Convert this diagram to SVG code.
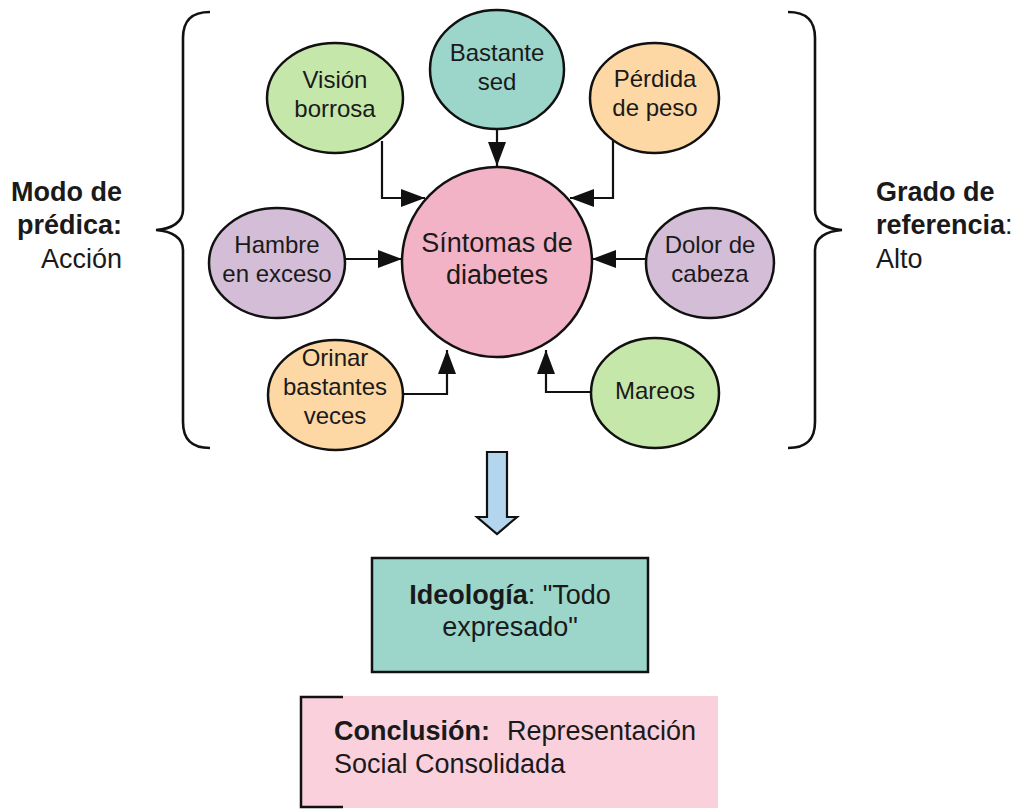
<svg xmlns="http://www.w3.org/2000/svg" width="1017" height="810" viewBox="0 0 1017 810">
  <style>
    text { font-family: "Liberation Sans", Arial, sans-serif; fill: #1a1a1a; }
    .lbl { font-size: 24px; text-anchor: middle; }
    .big { font-size: 27px; }
    .b { font-weight: bold; }
    .node { stroke: #111; stroke-width: 2.5; }
    .green { fill: #c6e7aa; }
    .teal { fill: #9cd6cb; }
    .orange { fill: #fed8a4; }
    .purple { fill: #d4bdd6; }
    .pink { fill: #f3b3c6; }
    .conn { fill: none; stroke: #111; stroke-width: 2.2; }
    .brace { fill: none; stroke: #111; stroke-width: 2.6; }
  </style>
  <defs>
    <marker id="head" viewBox="0 0 24 18" refX="24" refY="9" markerWidth="24" markerHeight="18" markerUnits="userSpaceOnUse" orient="auto">
      <path d="M0,0 L24,9 L0,18 Z" fill="#111"/>
    </marker>
  </defs>

  <rect width="1017" height="810" fill="#ffffff"/>

  <!-- side braces -->
  <g id="brace-left">
    <path class="brace" d="M210,12 C192,12 183,20 183,38 L183,210 C183,222 172,229 156,230 C172,231 183,238 183,250 L183,422 C183,440 192,448 210,448"/>
  </g>
  <g id="brace-right">
    <path class="brace" d="M788,12 C806,12 815,20 815,38 L815,210 C815,222 826,229 842,230 C826,231 815,238 815,250 L815,422 C815,440 806,448 788,448"/>
  </g>

  <!-- side labels -->
  <g id="modo-predica">
    <text class="big b" x="122" y="201" text-anchor="end">Modo de</text>
    <text class="big b" x="122" y="234" text-anchor="end">prédica:</text>
    <text class="big" x="122" y="268" text-anchor="end">Acción</text>
  </g>
  <g id="grado-referencia">
    <text class="big b" x="876" y="201">Grado de</text>
    <text class="big" x="876" y="234"><tspan class="b">referencia</tspan>:</text>
    <text class="big" x="876" y="268">Alto</text>
  </g>

  <!-- connectors -->
  <g id="connectors">
    <path class="conn" d="M382,141 L382,198 L425,198" marker-end="url(#head)"/>
    <path class="conn" d="M497,129 L497,166" marker-end="url(#head)"/>
    <path class="conn" d="M613,141 L613,198 L570,198" marker-end="url(#head)"/>
    <path class="conn" d="M345,259 L402,259" marker-end="url(#head)"/>
    <path class="conn" d="M646,259 L592,259" marker-end="url(#head)"/>
    <path class="conn" d="M403,394 L447,394 L447,350" marker-end="url(#head)"/>
    <path class="conn" d="M591,392 L546,392 L546,350" marker-end="url(#head)"/>
  </g>

  <!-- central node -->
  <g id="sintomas">
    <circle class="node pink" cx="497" cy="262" r="95"/>
    <text class="big" x="497" y="252" text-anchor="middle">Síntomas de</text>
    <text class="big" x="497" y="284" text-anchor="middle">diabetes</text>
  </g>

  <g id="bastante-sed">
    <ellipse class="node teal" cx="497" cy="69.5" rx="67" ry="59.5"/>
    <text class="lbl" x="497" y="61">Bastante</text>
    <text class="lbl" x="497" y="90">sed</text>
  </g>
  <g id="vision-borrosa">
    <ellipse class="node green" cx="335" cy="98" rx="68" ry="55"/>
    <text class="lbl" x="335" y="88">Visión</text>
    <text class="lbl" x="335" y="117">borrosa</text>
  </g>
  <g id="perdida-peso">
    <ellipse class="node orange" cx="654.5" cy="98" rx="64.5" ry="55"/>
    <text class="lbl" x="655" y="87">Pérdida</text>
    <text class="lbl" x="655" y="116">de peso</text>
  </g>
  <g id="hambre-exceso">
    <ellipse class="node purple" cx="277" cy="263" rx="68" ry="55"/>
    <text class="lbl" x="277" y="253">Hambre</text>
    <text class="lbl" x="277" y="282">en exceso</text>
  </g>
  <g id="dolor-cabeza">
    <ellipse class="node purple" cx="710" cy="263" rx="64" ry="55"/>
    <text class="lbl" x="710" y="253">Dolor de</text>
    <text class="lbl" x="710" y="282">cabeza</text>
  </g>
  <g id="orinar">
    <ellipse class="node orange" cx="335.5" cy="395" rx="67.5" ry="55"/>
    <text class="lbl" x="335" y="366">Orinar</text>
    <text class="lbl" x="335" y="395">bastantes</text>
    <text class="lbl" x="335" y="424">veces</text>
  </g>
  <g id="mareos">
    <ellipse class="node green" cx="655" cy="393" rx="64" ry="55"/>
    <text class="lbl" x="655" y="399">Mareos</text>
  </g>

  <!-- block arrow -->
  <g id="flecha">
    <path d="M487,452 L507,452 L507,517 L517,517 L497,534 L477,517 L487,517 Z" fill="#b3d5ee" stroke="#111" stroke-width="2.2" stroke-linejoin="miter"/>
  </g>

  <g id="ideologia">
    <rect x="372" y="558" width="276" height="114" fill="#9cd6cb" stroke="#111" stroke-width="2.5"/>
    <text class="big" x="510" y="604" text-anchor="middle"><tspan class="b">Ideología</tspan>: "Todo</text>
    <text class="big" x="510" y="636" text-anchor="middle">expresado"</text>
  </g>

  <g id="conclusion">
    <rect x="300" y="696" width="418" height="112" fill="#f9d0dc"/>
    <path d="M343,697 L301,697 L301,807 L343,807" fill="none" stroke="#111" stroke-width="2.5"/>
    <text class="big" x="334" y="740"><tspan class="b">Conclusión:</tspan> <tspan x="507">Representación</tspan></text>
    <text class="big" x="334" y="773">Social Consolidada</text>
  </g>
</svg>
